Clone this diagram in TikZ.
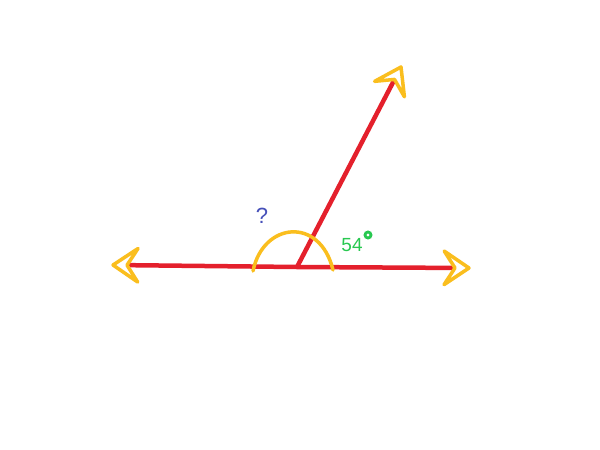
\documentclass[tikz,border=0pt]{standalone}
\usepackage{fontspec}
\setmainfont{Liberation Sans}
\usetikzlibrary{calc}
\definecolor{rayred}{RGB}{228,32,44}
\definecolor{tipyellow}{RGB}{250,190,30}
\definecolor{qblue}{RGB}{70,80,185}
\definecolor{agreen}{RGB}{40,200,80}
\begin{document}
\begin{tikzpicture}[x=1pt,y=-1pt,
  ray/.style={draw=rayred,line width=4.5pt},
  chev/.style={draw=tipyellow,line width=3.5pt,line join=round,line cap=round},
  arcline/.style={draw=tipyellow,line width=3.5pt,line cap=round},
  qlabel/.style={text=qblue,font=\fontsize{22}{26}\selectfont,inner sep=0pt},
  alabel/.style={text=agreen,font=\fontsize{19}{23}\selectfont,inner sep=0pt}]
\useasboundingbox (0,0) rectangle (600,450);
\fill[white] (0,0) rectangle (600,450);
\coordinate (O) at (297,267);
\coordinate (A) at (113,265);
\coordinate (B) at (469,268);
\coordinate (C) at (401,67);
\coordinate (P) at (253,271);
\coordinate (Q) at (333,270);
\foreach \t in {A,B,C}{
  \coordinate (\t n) at ($(\t)!14pt!(O)$);
  \draw[ray] (O) -- (\t n);
  \draw[chev] ($(\t)!30pt!34:(O)$) -- (\t) -- ($(\t)!30pt!-34:(O)$) -- (\t n) -- cycle;
}
\draw[arcline] (P) .. controls (263,222) and (320,216) .. (Q);
\node[qlabel] (q) at (262,216) {?};
\node[alabel] (a) at (352,245) {54};
\draw[agreen,line width=2.8pt] (368,235) circle (3pt);
\end{tikzpicture}
\end{document}
